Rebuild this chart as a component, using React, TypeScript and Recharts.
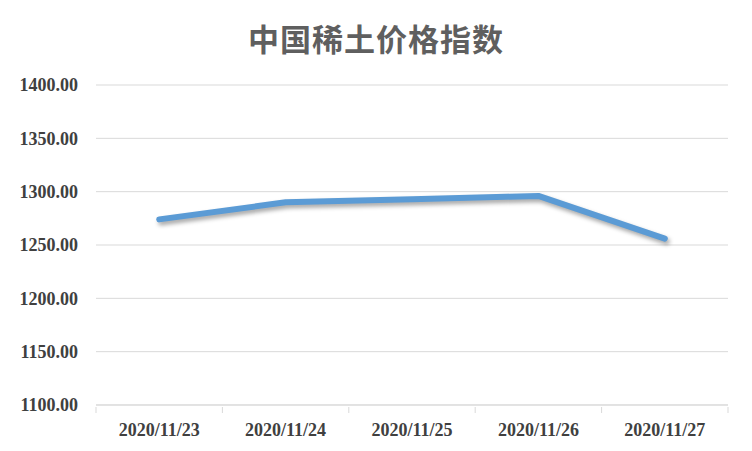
import { LineChart, Line, XAxis, YAxis, CartesianGrid } from "recharts";

const dates = ["2020/11/23", "2020/11/24", "2020/11/25", "2020/11/26", "2020/11/27"];
const priceIndex = [1274, 1290, 1293, 1296, 1256];
const yTicks = [1100, 1150, 1200, 1250, 1300, 1350, 1400];

const data = dates.map((d, i) => ({ date: d, value: priceIndex[i] }));

const W = 752;
const H = 451;
const M = { top: 85, right: 24, bottom: 0, left: 0 };
const Y_W = 96;
const HALF_BAND = (W - M.left - M.right - Y_W) / dates.length / 2;

const LABEL = "#404040";
const GRIDC = "#d9d9d9";
const SERIF = "'Liberation Serif', 'Times New Roman', serif";

// label at category centre, tick marks on category boundaries (excel style)
const DateTick = ({ x, y, payload, index }: any) => (
  <g>
    <line x1={x - HALF_BAND} x2={x - HALF_BAND} y1={y - 16} y2={y - 10} stroke={GRIDC} />
    {index === dates.length - 1 && (
      <line x1={x + HALF_BAND} x2={x + HALF_BAND} y1={y - 16} y2={y - 10} stroke={GRIDC} />
    )}
    <text x={x} y={y} dy="0.71em" textAnchor="middle" fill={LABEL}
      style={{ fontFamily: SERIF, fontSize: 18, fontWeight: 700 }}>
      {payload.value}
    </text>
  </g>
);

export default function App() {
  return (
    <div style={{ position: "absolute", left: 0, top: 0, width: W, height: H, background: "#fff" }}>
      <div style={{
        position: "absolute", left: 0, top: 16, width: W, textAlign: "center",
        fontFamily: "'Noto Sans CJK SC', sans-serif", fontSize: 31, fontWeight: 700,
        color: "#5f5f5f", letterSpacing: 1, lineHeight: "44px",
      }}>
        中国稀土价格指数
      </div>
      <LineChart width={W} height={H} data={data} margin={M}>
        <CartesianGrid vertical={false} stroke={GRIDC} />
        <XAxis dataKey="date" scale="band" height={46} tickLine={false} stroke={GRIDC}
          tickSize={0} tickMargin={18} tick={<DateTick />} interval={0} />
        <YAxis width={Y_W} domain={[1100, 1400]} ticks={yTicks} axisLine={false}
          tickLine={false} tickSize={0} tickMargin={18} interval={0}
          tickFormatter={(v: number) => v.toFixed(2)}
          tick={{ fill: LABEL, fontFamily: SERIF, fontSize: 18, fontWeight: 700 }} />
        <Line dataKey="value" type="linear" stroke="#5b9bd5" strokeWidth={6}
          strokeLinecap="round" strokeLinejoin="round" dot={false} activeDot={false}
          isAnimationActive={false}
          style={{ filter: "drop-shadow(2px 3px 2px rgba(0,0,0,0.35))" }} />
      </LineChart>
    </div>
  );
}
